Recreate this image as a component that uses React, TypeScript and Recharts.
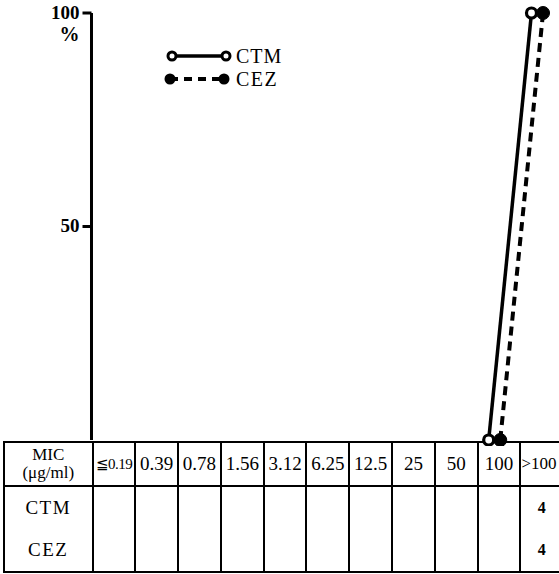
import React from 'react'
import { LineChart, Line, XAxis, YAxis } from 'recharts'

// MIC categories (µg/ml) and strain counts per category
const micLabels = ['≦0.19', '0.39', '0.78', '1.56', '3.12', '6.25', '12.5', '25', '50', '100', '>100']
const ctmCounts = [null, null, null, null, null, null, null, null, null, null, 4]
const cezCounts = [null, null, null, null, null, null, null, null, null, null, 4]

// cumulative % plotted (only the drawn points)
const ctmPct = [null, null, null, null, null, null, null, null, null, 0, 100]
const cezPct = [null, null, null, null, null, null, null, null, null, 0, 100]

const yTicks = [50, 100]

const FONT = '"Liberation Serif", "DejaVu Serif", serif'
const COL_W = 42.8
const FIRST_W = 88.5
const PLOT_LEFT = 91.5

const toSeries = (vals: (number | null)[], shift: number) =>
  vals
    .map((v, i) => ({ x: i + shift, y: v }))
    .filter((d) => d.y !== null)

const ctmData = toSeries(ctmPct, -0.22)
const cezData = toSeries(cezPct, 0.05)

const OpenDot = (props: any) => {
  const { cx, cy } = props
  if (cx == null || cy == null) return null
  return <circle cx={cx} cy={cy} r={5} fill="#fff" stroke="#000" strokeWidth={3.2} />
}

const FilledDot = (props: any) => {
  const { cx, cy } = props
  if (cx == null || cy == null) return null
  return <circle cx={cx} cy={cy} r={6.5} fill="#000" stroke="#000" strokeWidth={1} />
}

const YTick = (props: any) => {
  const { x, y, payload } = props
  return (
    <g>
      <text x={x} y={y + 6} textAnchor="end" fontFamily={FONT} fontSize={19} fontWeight="bold" fill="#000">
        {payload.value}
      </text>
      {payload.value === 100 && (
        <text x={x} y={y + 28} textAnchor="end" fontFamily={FONT} fontSize={20} fontWeight="bold" fill="#000">
          %
        </text>
      )}
    </g>
  )
}

const LegendBox = () => (
  <svg width={150} height={50} style={{ position: 'absolute', left: 160, top: 44 }}>
    <line x1={12} y1={12} x2={66} y2={12} stroke="#000" strokeWidth={3.5} />
    <circle cx={12} cy={12} r={4} fill="#fff" stroke="#000" strokeWidth={3} />
    <circle cx={66} cy={12} r={4} fill="#fff" stroke="#000" strokeWidth={3} />
    <text x={76} y={19} fontFamily={FONT} fontSize={20} fill="#000" letterSpacing={1}>CTM</text>
    <line x1={10} y1={35} x2={64} y2={35} stroke="#000" strokeWidth={4} strokeDasharray="8 6" />
    <circle cx={10} cy={35} r={5.5} fill="#000" />
    <circle cx={64} cy={35} r={5.5} fill="#000" />
    <text x={76} y={42} fontFamily={FONT} fontSize={20} fill="#000" letterSpacing={1.5}>CEZ</text>
  </svg>
)

const cellBorder = '2.5px solid #000'

function MicTable() {
  return (
    <table
      style={{
        position: 'absolute',
        left: 3,
        top: 441,
        borderCollapse: 'collapse',
        tableLayout: 'fixed',
        width: FIRST_W + COL_W * micLabels.length,
        fontFamily: FONT,
        color: '#000',
      }}
    >
      <colgroup>
        <col style={{ width: FIRST_W }} />
        {micLabels.map((m) => (
          <col key={m} style={{ width: COL_W }} />
        ))}
      </colgroup>
      <tbody>
        <tr style={{ height: 44 }}>
          <td style={{ border: cellBorder, textAlign: 'center', fontSize: 17, lineHeight: '18px', padding: 0 }}>
            MIC
            <br />
            (μg/ml)
          </td>
          {micLabels.map((m, i) => (
            <td
              key={m}
              style={{
                border: cellBorder,
                textAlign: i === 10 ? 'left' : 'center',
                fontSize: i === 0 ? 15 : i === 10 ? 17 : 19,
                padding: 0,
                whiteSpace: 'nowrap',
                overflow: 'hidden',
                letterSpacing: i === 0 ? -0.5 : 0,
              }}
            >
              {m}
            </td>
          ))}
        </tr>
        <tr style={{ height: 84 }}>
          <td style={{ border: cellBorder, textAlign: 'center', fontSize: 19, lineHeight: '42px', padding: 0, letterSpacing: 1.5 }}>
            CTM
            <br />
            CEZ
          </td>
          {micLabels.map((m, i) => (
            <td
              key={m}
              style={{ border: cellBorder, textAlign: 'center', fontSize: 16, fontWeight: 'bold', lineHeight: '42px', padding: 0 }}
            >
              {ctmCounts[i] ?? '\u00a0'}
              <br />
              {cezCounts[i] ?? '\u00a0'}
            </td>
          ))}
        </tr>
      </tbody>
    </table>
  )
}

export default function App() {
  return (
    <div style={{ position: 'absolute', left: 0, top: 0, width: 559, height: 574, overflow: 'hidden', background: '#fff' }}>
      <MicTable />
      <LegendBox />
      <div style={{ position: 'absolute', left: 0, top: 0 }}>
        <LineChart width={PLOT_LEFT + COL_W * micLabels.length} height={446} margin={{ top: 13, right: 0, bottom: 6, left: 0 }}>
          <XAxis type="number" dataKey="x" domain={[-0.5, 10.5]} hide />
          <YAxis
            type="number"
            domain={[0, 100]}
            ticks={yTicks}
            width={PLOT_LEFT}
            axisLine={{ stroke: '#000', strokeWidth: 3 }}
            tickLine={{ stroke: '#000', strokeWidth: 3 }}
            tickSize={9}
            tickMargin={3}
            tick={<YTick />}
          />
          <Line
            data={ctmData}
            dataKey="y"
            name="CTM"
            stroke="#000"
            strokeWidth={3.5}
            dot={<OpenDot />}
            isAnimationActive={false}
          />
          <Line
            data={cezData}
            dataKey="y"
            name="CEZ"
            stroke="#000"
            strokeWidth={4}
            strokeDasharray="9 6"
            dot={<FilledDot />}
            isAnimationActive={false}
          />
        </LineChart>
      </div>
    </div>
  )
}
